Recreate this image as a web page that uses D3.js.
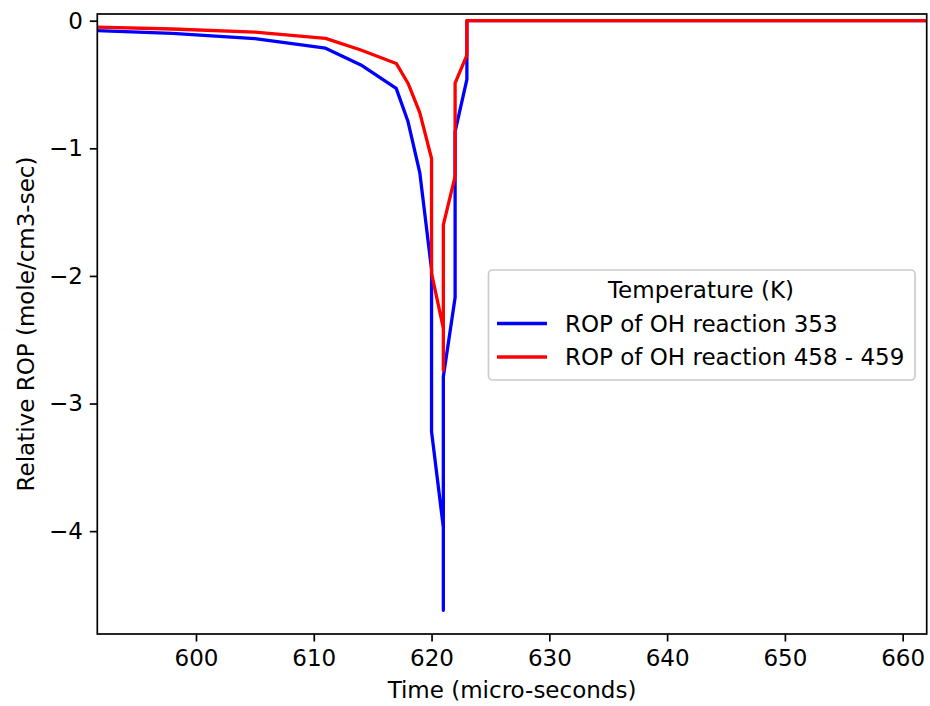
<!DOCTYPE html>
<html>
<head>
<meta charset="utf-8">
<script src="https://cdn.jsdelivr.net/npm/d3@7"></script>
<style>
  body { margin: 0; background: #fff; }
  svg text { font-family: "DejaVu Sans", sans-serif; fill: #000; }
</style>
</head>
<body>
<svg id="chart" width="930" height="706"></svg>
<script>
// Time samples (micro-seconds), shared by both series
const time = [591.6, 598, 605, 611, 614, 617, 618, 619, 620, 620, 621, 621, 621, 622, 622, 623, 623, 662];
// ROP of OH reaction 353
const rop353 = [-0.077, -0.10, -0.14, -0.215, -0.347, -0.53, -0.79, -1.19, -1.95, -3.22, -3.97, -4.62, -2.79, -2.17, -0.87, -0.46, 0, 0];
// ROP of OH reaction 458 - 459
const rop458 = [-0.05, -0.065, -0.09, -0.138, -0.23, -0.335, -0.49, -0.72, -1.08, -1.98, -2.41, -2.74, -1.60, -1.22, -0.49, -0.27, 0, 0];

const xTicks = [600, 610, 620, 630, 640, 650, 660];
const yTicks = [0, -1, -2, -3, -4];
const seriesNames = ['ROP of OH reaction 353', 'ROP of OH reaction 458 - 459'];
const seriesColors = ['#0000ff', '#ff0000'];

const svg = d3.select('#chart');
const plotLeft = 97.3, plotRight = 926.7, plotTop = 14, plotBottom = 634;
const fontSize = '23px';

const x = d3.scaleLinear().domain([591.62, 662.04]).range([plotLeft, plotRight]);
const y = d3.scaleLinear().domain([-4.806, 0.0525]).range([plotBottom, plotTop]);

svg.append('defs').append('clipPath').attr('id', 'clip')
    .append('rect')
    .attr('x', plotLeft).attr('y', plotTop)
    .attr('width', plotRight - plotLeft).attr('height', plotBottom - plotTop);

// Lines
const line = d3.line()
    .x((d, i) => x(time[i]))
    .y(d => y(d));

[rop353, rop458].forEach((vals, k) => {
    svg.append('path')
        .attr('d', line(vals))
        .attr('clip-path', 'url(#clip)')
        .attr('fill', 'none')
        .attr('stroke', seriesColors[k])
        .attr('stroke-width', 3.3)
        .attr('stroke-linejoin', 'round')
        .attr('stroke-linecap', 'square');
});

// Axes
const fmt = d => d < 0 ? '\u2212' + Math.abs(d) : String(d);

const xAxis = svg.append('g')
    .attr('transform', `translate(0,${plotBottom})`)
    .call(d3.axisBottom(x).tickValues(xTicks).tickSize(7.5).tickPadding(7).tickFormat(d3.format('d')));

const yAxis = svg.append('g')
    .attr('transform', `translate(${plotLeft},0)`)
    .call(d3.axisLeft(y).tickValues(yTicks).tickSize(7.5).tickPadding(7).tickFormat(fmt));

[xAxis, yAxis].forEach(g => {
    g.select('.domain').remove();
    g.selectAll('.tick line').attr('stroke', '#000').attr('stroke-width', 1.7);
    g.selectAll('.tick text')
        .style('font-size', fontSize)
        .attr('fill', '#000');
});
xAxis.selectAll('.tick text').attr('dy', '0.76em');

// Frame
svg.append('rect')
    .attr('x', plotLeft).attr('y', plotTop)
    .attr('width', plotRight - plotLeft).attr('height', plotBottom - plotTop)
    .attr('fill', 'none')
    .attr('stroke', '#000')
    .attr('stroke-width', 1.7);

// Axis labels
svg.append('text')
    .attr('x', (plotLeft + plotRight) / 2)
    .attr('y', 698)
    .attr('text-anchor', 'middle')
    .style('font-size', fontSize)
    .text('Time (micro-seconds)');

svg.append('text')
    .attr('transform', `translate(34,${(plotTop + plotBottom) / 2}) rotate(-90)`)
    .attr('text-anchor', 'middle')
    .style('font-size', fontSize)
    .text('Relative ROP (mole/cm3-sec)');

// Legend
const legend = svg.append('g');
legend.append('rect')
    .attr('x', 488.5).attr('y', 270)
    .attr('width', 426.5).attr('height', 110)
    .attr('rx', 4)
    .attr('fill', 'rgba(255,255,255,0.8)')
    .attr('stroke', '#cccccc')
    .attr('stroke-width', 1.7);

legend.append('text')
    .attr('x', 701)
    .attr('y', 298)
    .attr('text-anchor', 'middle')
    .style('font-size', fontSize)
    .text('Temperature (K)');

seriesNames.forEach((name, k) => {
    const ly = 323.5 + k * 33.5;
    legend.append('line')
        .attr('x1', 497).attr('x2', 547)
        .attr('y1', ly).attr('y2', ly)
        .attr('stroke', seriesColors[k])
        .attr('stroke-width', 3.3);
    legend.append('text')
        .attr('x', 565)
        .attr('y', ly)
        .attr('dy', '0.36em')
        .style('font-size', fontSize)
        .text(name);
});
</script>
</body>
</html>
